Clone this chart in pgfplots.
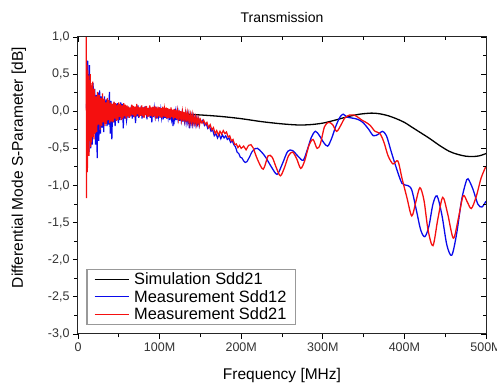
\documentclass[border=0pt]{standalone}
\usepackage{pgfplots}
\pgfplotsset{compat=1.18}
\usepackage{fontspec}
\setmainfont{Liberation Sans}
\definecolor{mblue}{RGB}{10,10,235}
\definecolor{mred}{RGB}{245,15,15}
\begin{document}
\begin{tikzpicture}
\begin{axis}[
  width=408pt, height=297pt, scale only axis,
  xmin=0, xmax=500, ymin=-3, ymax=1,
  xtick={0,100,200,300,400,500},
  xticklabels={0,100M,200M,300M,400M,500M},
  minor x tick num=1,
  ytick={-3,-2.5,-2,-1.5,-1,-0.5,0,0.5,1},
  minor y tick num=1,
  xtick pos=left, ytick pos=left, tick align=outside,
  major tick length=5pt, minor tick length=3.5pt,
  every tick/.style={black, line width=0.9pt},
  axis line style={line width=1pt, black!85},
  /pgf/number format/.cd, fixed, fixed zerofill, precision=1, use comma, assume math mode=true,
  /pgfplots/.cd,
  ticklabel style={font=\fontsize{12.5}{14}\selectfont, text=black!80},
  every axis title shift=0pt,
  title={Transmission},
  title style={font=\fontsize{14}{16}\selectfont, at={(axis description cs:0.5,1.064)}, anchor=center},
  xlabel={Frequency [MHz]},
  xlabel style={font=\fontsize{15.5}{18}\selectfont, at={(axis description cs:0.5,-0.14)}, anchor=center},
  ylabel={Differential Mode S-Parameter [dB]},
  ylabel style={font=\fontsize{15.5}{18}\selectfont, at={(axis description cs:-0.145,0.56)}, anchor=center, rotate=0},
  legend style={at={(axis description cs:0.02,0.03)}, anchor=south west,
    font=\fontsize{16.4}{19}\selectfont, draw=black!40, line width=1.4pt,
    inner xsep=7pt, inner ysep=1.5pt, row sep=0pt,
    nodes={inner sep=2pt}},
  legend cell align=left,
  legend image code/.code={\draw[#1] (0pt,0pt) -- (34pt,0pt);},
]
% Simulation
\addplot[black, line width=1.3pt, smooth] coordinates {
(10,0.0)(50,-0.005)(80,-0.015)(100,-0.025)(130,-0.04)(150,-0.05)(175,-0.07)(200,-0.1)(225,-0.14)(250,-0.17)(270,-0.185)(285,-0.18)(300,-0.16)(315,-0.12)(330,-0.075)(345,-0.04)(360,-0.025)(370,-0.035)(380,-0.06)(390,-0.1)(400,-0.15)(410,-0.22)(420,-0.29)(430,-0.36)(443,-0.46)(455,-0.54)(465,-0.58)(475,-0.605)(484,-0.61)(492,-0.6)(500,-0.57)
};
\addlegendentry{\hspace{3pt}Simulation Sdd21}
% Measurement Sdd12 (blue), noisy part
\addplot[mblue, line width=1.2pt] coordinates {
(10.5,0.1)(11,-0.65)(11.5,0.3)(12,0.68)(12.5,-0.6)(13,0.5)(13.5,-0.55)(14,0.62)(14.5,-0.4)(15,0.35)(15.5,-0.5)(16.5,0.3)(17.5,-0.45)(18.5,0.38)(19.5,-0.3)(20.5,0.3)(21.5,-0.45)(22.5,0.22)(23.5,-0.63)(24.5,0.25)(25.5,-0.4)(26.5,0.28)(27.5,-0.3)(28.5,0.2)(29.5,-0.22)(30.5,0.15)(31.5,-0.28)(32.5,0.2)(33.5,-0.15)(34.5,0.16)(35.5,-0.2)(36.5,0.12)(37.5,-0.18)(38.5,0.26)(39.5,-0.3)(40.5,0.14)(41.5,-0.38)(42.5,0.1)(43.5,-0.15)(44.5,0.12)(45.5,-0.2)(46.5,0.1)(47.5,-0.12)(48.5,0.11)(49.5,-0.16)(50.5,0.08)(51.5,-0.12)(52.5,0.12)(53.5,-0.1)(54.5,0.1)(55.5,-0.23)(56.5,0.08)(57.5,-0.1)(58.5,0.07)(59.5,-0.12)
(60.5,-0.05)(61.5,0.06)(62.5,-0.09)(63.5,0.04)(64.5,-0.07)(65.5,0.08)(66.5,-0.1)(67.5,0.05)(68.5,-0.08)(69.5,0.03)(70.5,-0.16)(71.5,0.05)(72.5,-0.07)(73.5,0.08)(74.5,-0.09)(75.5,0.04)(76.5,-0.06)(77.5,0.07)(78.5,-0.1)(79.5,0.05)(80.5,-0.08)(81.5,0.06)(82.5,-0.05)(83.5,0.07)(84.5,-0.11)(85.5,0.04)(86.5,-0.07)(87.5,0.06)(88.5,-0.09)(89.5,0.03)(90.5,-0.15)(91.5,0.05)(92.5,-0.08)(93.5,0.04)(94.5,-0.06)(95.5,0.06)(96.5,-0.1)(97.5,0.03)(98.5,-0.07)(99.5,0.05)
(100.5,-0.09)(101.5,0.02)(102.5,-0.08)(103.5,0.04)(104.5,-0.11)(105.5,0.03)(106.5,-0.09)(107.5,0.02)(108.5,-0.1)(109.5,0.03)(110.5,-0.08)(111.5,0.02)(112.5,-0.12)(113.5,0.01)(114.5,-0.1)(115.5,0.0)(116.5,-0.2)(117.5,0.01)(118.5,-0.11)(119.5,-0.01)(120.5,-0.12)(121.5,0.0)(122.5,-0.1)(123.5,-0.02)(124.5,-0.13)(125.5,-0.01)(126.5,-0.12)(127.5,-0.03)(128.5,-0.14)(129.5,-0.02)(130.5,-0.13)(131.5,-0.04)(132.5,-0.15)(133.5,-0.05)(134.5,-0.14)(135.5,-0.06)(136.5,-0.23)(137.5,-0.06)(138.5,-0.16)(139.5,-0.07)(140.5,-0.17)(141.5,-0.08)(142.5,-0.16)(143.5,-0.09)(144.5,-0.18)(145.5,-0.1)(146.5,-0.17)(147.5,-0.11)(148.5,-0.19)(149.5,-0.12)
(151,-0.15)(153,-0.12)(155,-0.19)(157,-0.16)(159,-0.23)(161,-0.2)(163,-0.27)(165,-0.25)(167,-0.33)(169,-0.3)(171,-0.36)(173,-0.31)(175,-0.37)(177,-0.32)(179,-0.36)(181,-0.33)(183,-0.38)(185,-0.36)(187,-0.42)(189,-0.4)(191,-0.45)(193,-0.48)(195,-0.55)(197,-0.57)(199,-0.62)(201,-0.63)(203,-0.67)(205,-0.69)(207,-0.68)(210,-0.62)(213,-0.55)(216,-0.51)
};
\addlegendentry{\hspace{3pt}Measurement Sdd12}
% Measurement Sdd21 (red), noisy part
\addplot[mred, line width=1.2pt] coordinates {
(10,1.05)(10.5,-1.17)(11,0.62)(11.5,-0.82)(12,0.55)(12.5,-0.55)(13,0.48)(13.5,-0.6)(14,0.42)(14.5,-0.4)(15,0.5)(15.5,-0.48)(16,0.35)(16.5,-0.42)(17,0.38)(17.5,-0.3)(18,0.4)(18.5,-0.35)(19,0.28)(19.5,-0.38)(20,0.3)(21,-0.3)(22,0.2)(23,-0.28)(24,0.26)(25,-0.18)(26,0.22)(27,-0.25)(28,0.18)(29,-0.2)(30,0.24)(31,-0.15)(32,0.17)(33,-0.2)(34,0.12)(35,-0.17)(36,0.18)(37,-0.12)(38,0.15)(39,-0.16)(40,0.12)(41,-0.14)(42,0.1)(43,-0.15)(44,0.13)(45,-0.1)(46,0.11)(47,-0.13)(48,0.09)(49,-0.12)(50,0.12)(51,-0.08)(52,0.1)(53,-0.12)(54,0.08)(55,-0.1)(56,0.11)(57,-0.07)(58,0.09)(59,-0.1)
(60,0.08)(61,-0.07)(62,0.06)(63,-0.09)(64,0.05)(65,-0.06)(66,0.09)(67,-0.05)(68,0.07)(69,-0.08)(70,0.06)(71,-0.07)(72,0.1)(73,-0.04)(74,0.06)(75,-0.08)(76,0.05)(77,-0.06)(78,0.08)(79,-0.07)(80,0.05)(81,-0.09)(82,0.06)(83,-0.05)(84,0.07)(85,-0.08)(86,0.04)(87,-0.07)(88,0.08)(89,-0.06)(90,0.05)(91,-0.08)(92,0.06)(93,-0.07)(94,0.07)(95,-0.05)(96,0.05)(97,-0.09)(98,0.06)(99,-0.07)
(100,0.05)(101,-0.08)(102,0.04)(103,-0.09)(104,0.06)(105,-0.07)(106,0.03)(107,-0.08)(108,0.05)(109,-0.1)(110,0.04)(111,-0.09)(112,0.03)(113,-0.1)(114,0.05)(115,-0.08)(116,0.02)(117,-0.11)(118,0.03)(119,-0.09)(120,0.02)(121,-0.11)(122,0.0)(123,-0.1)(124,0.01)(125,-0.12)(126,0.0)(127,-0.11)(128,-0.01)(129,-0.13)(130,-0.01)(131,-0.12)(132,-0.02)(133,-0.14)(134,-0.03)(135,-0.13)(136,-0.04)(137,-0.15)(138,-0.05)(139,-0.14)(140,-0.05)(141,-0.16)(142,-0.07)(143,-0.15)(144,-0.08)(145,-0.17)(146,-0.09)(147,-0.16)(148,-0.1)(149,-0.18)
(150,-0.11)(152,-0.16)(154,-0.12)(156,-0.18)(158,-0.15)(160,-0.22)(162,-0.18)(164,-0.25)(166,-0.22)(168,-0.3)(170,-0.26)(172,-0.32)(174,-0.27)(176,-0.31)(178,-0.26)(180,-0.3)(182,-0.28)(184,-0.35)(186,-0.33)(188,-0.4)(190,-0.38)(192,-0.45)(194,-0.44)(196,-0.49)(198,-0.46)(200,-0.5)(203,-0.47)(206,-0.52)(209,-0.46)(212,-0.45)(215,-0.5)
};
\addlegendentry{\hspace{3pt}Measurement Sdd21}
% smooth parts
\addplot[mblue, line width=1.3pt, smooth, tension=0.5, forget plot] coordinates {
(216,-0.51)(220,-0.5)(225,-0.55)(230,-0.62)(237,-0.75)(244,-0.85)(250,-0.72)(257,-0.54)(263,-0.53)(270,-0.61)(276,-0.66)(281,-0.52)(286,-0.35)(291,-0.27)(296,-0.33)(301,-0.42)(306,-0.47)(311,-0.36)(316,-0.2)(321,-0.08)(325,-0.04)(330,-0.08)(335,-0.09)(340,-0.1)(345,-0.12)(350,-0.16)(356,-0.24)(362,-0.33)(368,-0.31)(373,-0.27)(378,-0.33)(384,-0.55)(390,-0.76)(397,-0.97)(404,-1.0)(409,-1.06)(415,-1.35)(420,-1.6)(425,-1.69)(430,-1.55)(435,-1.25)(440,-1.14)(446,-1.4)(452,-1.8)(458,-1.94)(464,-1.65)(470,-1.2)(475,-0.97)(478,-0.91)(484,-1.05)(490,-1.25)(495,-1.29)(500,-1.21)
};
\addplot[mred, line width=1.3pt, smooth, tension=0.5, forget plot] coordinates {
(215,-0.5)(220,-0.65)(227,-0.78)(233,-0.6)(238,-0.62)(243,-0.76)(248,-0.87)(253,-0.76)(258,-0.6)(263,-0.55)(268,-0.64)(273,-0.77)(278,-0.66)(283,-0.46)(288,-0.38)(293,-0.5)(297,-0.44)(302,-0.21)(307,-0.15)(312,-0.18)(317,-0.27)(322,-0.19)(327,-0.09)(333,-0.05)(338,-0.05)(343,-0.08)(348,-0.12)(353,-0.15)(358,-0.19)(364,-0.27)(370,-0.3)(375,-0.42)(380,-0.6)(386,-0.71)(392,-0.67)(397,-0.9)(403,-1.16)(409,-1.41)(414,-1.22)(419,-1.03)(424,-1.2)(429,-1.6)(435,-1.81)(441,-1.45)(447,-1.16)(453,-1.38)(460,-1.71)(466,-1.45)(472,-1.14)(477,-1.22)(482,-1.31)(488,-1.15)(494,-0.9)(500,-0.74)
};
\end{axis}
\begin{axis}[
  width=408pt, height=297pt, scale only axis,
  xmin=0, xmax=500, ymin=-3, ymax=1,
  xtick={0,100,200,300,400,500}, minor x tick num=1,
  ytick={-3,-2.5,-2,-1.5,-1,-0.5,0,0.5,1}, minor y tick num=1,
  xtick pos=right, ytick pos=right, tick align=inside,
  major tick length=5pt, minor tick length=3.5pt,
  every tick/.style={black, line width=0.9pt},
  xticklabels={}, yticklabels={},
  axis line style={line width=1pt, black!85},
]
\end{axis}
\pgfresetboundingbox
\path ([xshift=-78pt,yshift=-50pt]current axis.south west) rectangle ([xshift=11pt,yshift=37pt]current axis.north east);
\end{tikzpicture}
\end{document}
